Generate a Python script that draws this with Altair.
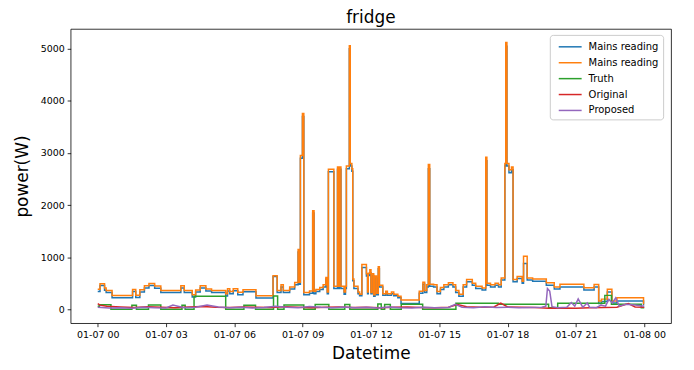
import json
import altair as alt
import pandas as pd

# ---------------- data (hours after 01-07 00:00, power in W) ----------------
mains_hours = [0.00, 0.10, 0.30, 0.37, 0.63, 1.53, 1.67, 1.85, 2.05, 2.25, 2.50, 2.77,
               3.65, 3.80, 4.15, 4.30, 4.50, 4.75, 5.00, 5.62, 5.70, 5.80, 5.95, 6.15,
               6.38, 6.95, 7.70, 7.88, 8.05, 8.15, 8.43, 8.65, 8.80, 8.84, 8.90, 8.99,
               9.05, 9.30, 9.44, 9.50, 9.58, 9.75, 9.90, 10.02, 10.08, 10.13, 10.37, 10.53,
               10.57, 10.61, 10.68, 10.82, 10.88, 10.92, 11.05, 11.09, 11.16, 11.20, 11.25, 11.43,
               11.50, 11.60, 11.80, 11.85, 11.88, 11.95, 12.00, 12.05, 12.12, 12.18, 12.25, 12.32,
               12.37, 12.52, 12.65, 12.72, 12.90, 13.00, 13.18, 13.32, 14.12, 14.28, 14.36, 14.45,
               14.52, 14.58, 14.75, 14.90, 15.05, 15.20, 15.40, 15.60, 15.72, 15.86, 16.05, 16.20,
               16.45, 16.60, 16.88, 17.04, 17.09, 17.25, 17.45, 17.60, 17.72, 17.88, 17.92, 17.97,
               18.06, 18.17, 18.24, 18.42, 18.64, 18.70, 18.86, 19.10, 19.70, 20.05, 20.30, 21.35,
               21.80, 22.00, 22.12, 22.38, 22.58, 22.80, 23.97, 24.00]
mains_a = [340, 455, 365, 320, 220, 340, 225, 330, 410, 455, 405, 320,
           410, 320, 235, 330, 410, 350, 320, 255, 350, 300, 355, 280,
           335, 215, 630, 320, 430, 320, 390, 470, 1100, 480, 2900, 3700,
           280, 310, 1850, 300, 340, 380, 430, 580, 300, 2640, 400, 2690,
           400, 2690, 400, 290, 400, 2700, 5000, 2750, 2650, 550, 400, 300,
           260, 800, 640, 300, 650, 700, 300, 650, 250, 600, 280, 780,
           430, 270, 310, 270, 300, 260, 220, 110, 310, 480, 320, 430,
           2700, 440, 430, 300, 380, 430, 470, 430, 320, 250, 430, 530,
           460, 400, 370, 2850, 460, 430, 460, 430, 560, 2750, 5050, 2750,
           2620, 2680, 530, 590, 500, 880, 560, 540, 460, 390, 430, 370,
           430, 110, 150, 330, 120, 160, 90, 90]
mains_b = [385, 490, 410, 360, 265, 380, 270, 375, 450, 495, 445, 360,
           450, 360, 280, 370, 450, 390, 360, 300, 395, 340, 395, 325,
           375, 260, 645, 360, 470, 360, 430, 515, 1150, 520, 2950, 3760,
           320, 350, 1890, 345, 380, 420, 470, 610, 330, 2690, 440, 2730,
           440, 2730, 440, 330, 440, 2750, 5060, 2800, 2700, 580, 440, 330,
           290, 860, 680, 330, 690, 760, 320, 680, 280, 640, 310, 815,
           460, 300, 345, 300, 330, 290, 250, 180, 345, 520, 360, 470,
           2780, 480, 470, 340, 420, 470, 510, 470, 360, 290, 470, 570,
           500, 440, 410, 2920, 500, 470, 500, 470, 600, 2800, 5120, 2800,
           2680, 2730, 570, 630, 540, 1020, 600, 580, 510, 430, 480, 415,
           478, 160, 195, 385, 160, 220, 110, 110]

truth_hours = [0.00, 0.07, 0.58, 1.50, 1.70, 2.23, 2.77, 3.70, 3.84, 4.23, 5.62, 6.42,
               6.93, 7.72, 7.90, 8.18, 9.05, 9.55, 10.15, 10.85, 11.07, 12.30, 12.45, 12.60,
               12.85, 13.33, 14.27, 15.73, 17.60, 19.80, 20.20, 22.27, 22.56, 23.87, 24.00]
truth_vals = [60, 89, 0, 76, 0, 83, 0, 76, 0, 250, 0, 76,
              0, 255, 0, 83, 0, 90, 0, 90, 0, 100, 0, 90,
              0, 95, 0, 114, 95, 30, 114, 267, 95, 30, 30]

orig_hours = [0, 0.1, 0.4, 1.0, 1.6, 2.2, 2.8, 3.4, 4.0, 4.6, 5.2, 5.8, 6.4, 7.0, 7.6,
              8.2, 8.8, 9.4, 10.0, 10.6, 11.2, 11.8, 12.4, 13.0, 13.6, 14.2, 14.8, 15.4,
              15.8, 16.2, 16.8, 17.4, 17.7, 18.0, 18.6, 19.2, 19.8, 20.4, 21.0, 21.6, 22.2,
              22.8, 23.3, 23.6, 24.0]
orig_vals = [110, 80, 60, 45, 35, 50, 40, 30, 45, 55, 40, 35, 45, 40, 35,
             50, 40, 30, 40, 45, 35, 40, 30, 40, 45, 35, 30, 40,
             90, 50, 40, 45, 120, 45, 40, 35, 20, 25, 20, 30, 35,
             40, 110, 45, 40]

prop_hours = [0, 0.5, 1.0, 1.5, 2.0, 2.5, 3.0, 3.3, 3.8, 4.3, 4.8, 5.3, 5.8, 6.3, 6.8,
              7.3, 7.8, 8.3, 8.8, 9.3, 9.8, 10.3, 10.8, 11.3, 11.8, 12.3, 12.8, 13.3, 13.8,
              14.3, 14.8, 15.4, 15.7, 16.0, 16.5, 17.0, 17.5, 18.0, 18.5, 19.0, 19.5, 19.68,
              19.75, 19.85, 19.95, 20.2, 20.6, 20.8, 20.95, 21.1, 21.3, 21.5, 21.6, 21.9,
              22.1, 22.3, 22.45, 22.6, 22.75, 22.9, 23.2, 23.6, 24.0]
prop_vals = [40, 25, 30, 20, 40, 30, 25, 80, 30, 40, 80, 45, 30, 40, 25,
             35, 60, 40, 30, 55, 40, 30, 45, 30, 40, 25, 45, 30, 25,
             40, 30, 35, 95, 40, 30, 50, 35, 40, 30, 35, 40, 60,
             400, 350, 50, 30, 40, 130, 60, 200, 40, 120, 40, 30,
             80, 60, 190, 120, 220, 60, 95, 80, 60]

series_names = ["Mains reading", "Mains reading ", "Truth", "Original", "Proposed"]
series_colors = ["#1f77b4", "#ff7f0e", "#2ca02c", "#d62728", "#9467bd"]
tick_hours = [0, 3, 6, 9, 12, 15, 18, 21, 24]
tick_labels = ["01-07 00", "01-07 03", "01-07 06", "01-07 09", "01-07 12",
               "01-07 15", "01-07 18", "01-07 21", "01-08 00"]
y_ticks = [0, 1000, 2000, 3000, 4000, 5000]

# ---------------- table ----------------
rows = []
for h, v in zip(mains_hours, mains_a):
    rows.append({"hour": h, "power": v, "series": series_names[0]})
for h, v in zip(mains_hours, mains_b):
    rows.append({"hour": h, "power": v, "series": series_names[1]})
for h, v in zip(truth_hours, truth_vals):
    rows.append({"hour": h, "power": v, "series": series_names[2]})
for h, v in zip(orig_hours, orig_vals):
    rows.append({"hour": h, "power": v, "series": series_names[3]})
for h, v in zip(prop_hours, prop_vals):
    rows.append({"hour": h, "power": v, "series": series_names[4]})
df = pd.DataFrame(rows)

FONT = "DejaVu Sans"
label_expr = json.dumps(tick_labels) + "[round(datum.value / 3)]"

x_enc = alt.X("hour:Q",
              scale=alt.Scale(domain=[-1.19, 25.18], nice=False, zero=False),
              axis=alt.Axis(values=tick_hours, labelExpr=label_expr, title="Datetime"))
y_enc = alt.Y("power:Q",
              scale=alt.Scale(domain=[-267, 5382], nice=False, zero=False),
              axis=alt.Axis(values=y_ticks, format="d", title="power(W)"))
color_enc = alt.Color("series:N",
                      scale=alt.Scale(domain=series_names, range=series_colors),
                      legend=alt.Legend(title=None, orient="none", legendX=482, legendY=6,
                                        symbolType="M-0.43,0H2.86", symbolSize=196,
                                        symbolStrokeWidth=1.5, labelFont=FONT,
                                        labelFontSize=10, labelColor="#000",
                                        labelOffset=19, padding=4, rowPadding=3,
                                        strokeColor="#cccccc", fillColor="rgba(255,255,255,0.8)",
                                        cornerRadius=3))

interp = ["step-after", "step-after", "step-after", "linear", "linear"]
layers = []
for name, ip in zip(series_names, interp):
    layers.append(
        alt.Chart(df)
        .transform_filter(alt.datum.series == name)
        .mark_line(interpolate=ip, strokeWidth=1.5, clip=True)
        .encode(x=x_enc, y=y_enc, color=color_enc)
    )

chart = (
    alt.layer(*layers)
    .properties(
        width=604, height=296,
        title=alt.TitleParams("fridge", font=FONT, fontSize=17, fontWeight="normal",
                              color="#000", offset=2, anchor="middle"),
        autosize=alt.AutoSizeParams(type="none"),
        padding={"left": 63, "top": 20, "right": 15, "bottom": 40},
        background="white",
    )
    .configure_view(stroke="#000", strokeWidth=0.8)
    .configure_axis(grid=False, domain=False, tickColor="#000", tickWidth=0.8, tickSize=3.5,
                    labelFont=FONT, labelFontSize=9.5, labelColor="#000", labelPadding=3,
                    titleFont=FONT, titleFontSize=17, titleFontWeight="normal",
                    titleColor="#000")
    .configure_axisY(titlePadding=9)
    .configure_axisX(titlePadding=7)
)

chart.save("out.html", embed_options={"renderer": "svg", "actions": False})
